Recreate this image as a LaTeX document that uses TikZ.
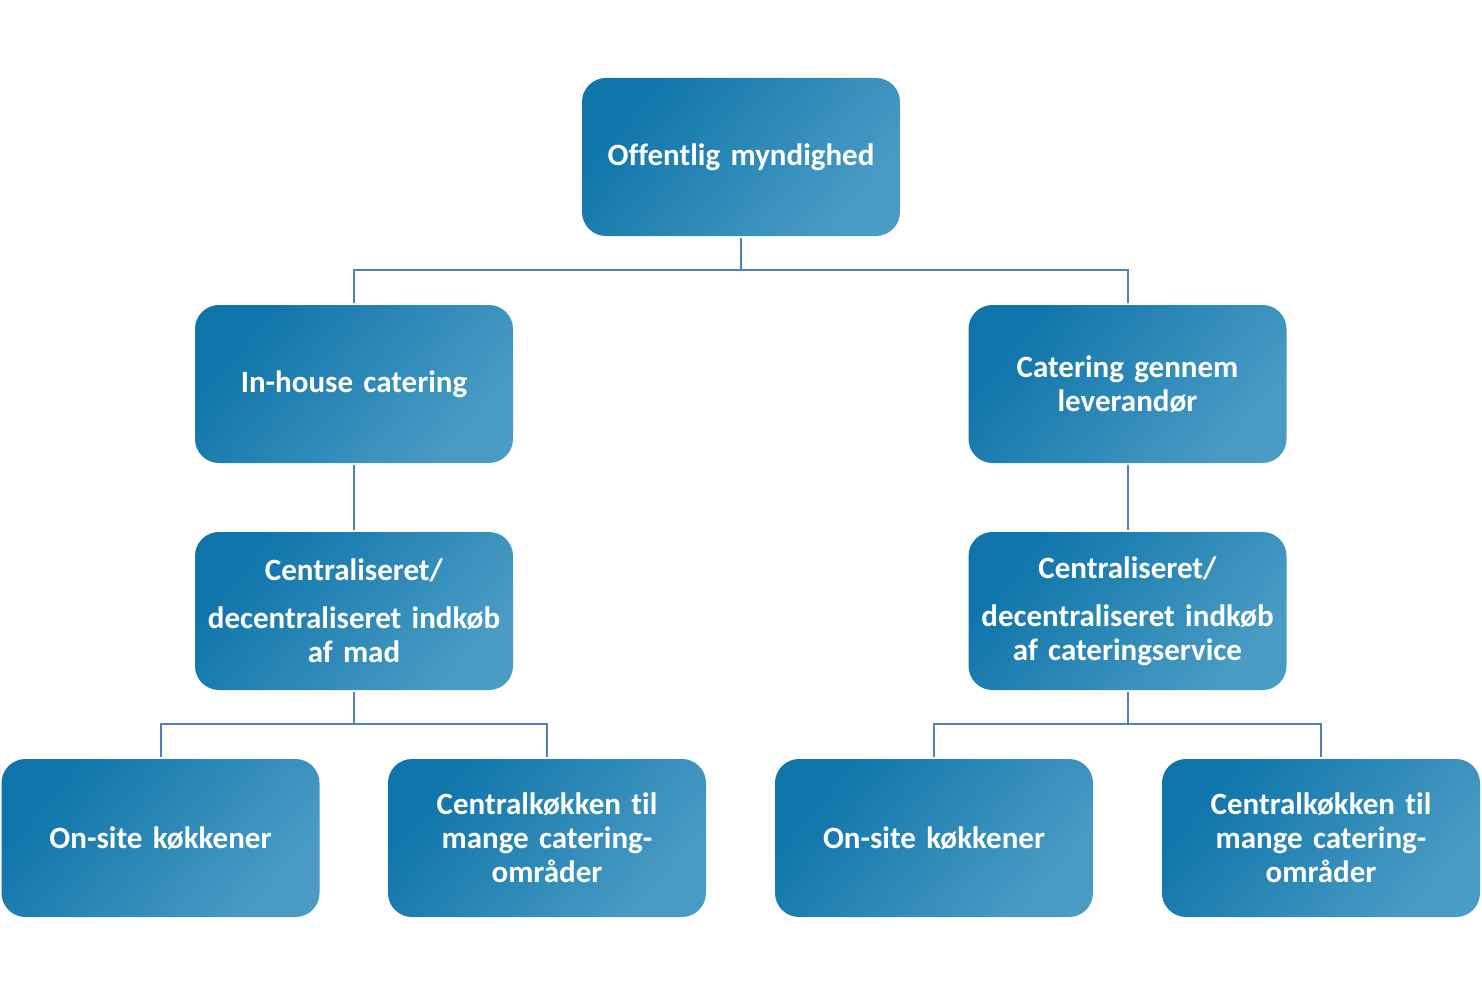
\documentclass[tikz,border=0pt]{standalone}
\usepackage{fontspec}
\setmainfont[Ligatures=NoCommon]{Carlito}
\usetikzlibrary{calc}
\definecolor{boxdark}{HTML}{0E74AA}
\definecolor{boxlight}{HTML}{4A9CC4}
\definecolor{linkblue}{HTML}{4F81BD}
\tikzset{
  unit/.style={rounded corners=12pt, minimum width=159pt, minimum height=79pt,
    left color=boxdark, right color=boxlight, shading angle=50,
    text=white, font=\fontsize{15.5pt}{17pt}\selectfont\bfseries,
    align=center, text width=152pt, inner sep=0pt},
  link/.style={draw=linkblue, line width=1pt}
}
\begin{document}
\begin{tikzpicture}[x=0.5pt, y=-0.5pt]
			%%%%% START %%%%%
			\useasboundingbox (0,0) rectangle (1482,995);
			
			\node[unit] (auth) at (741, 157) {Offentlig myndighed};
			
			\node[unit] (inhouse) at (354, 384) {In-house catering};
			\node[unit] (supplier) at (1127.5, 384) {Catering gennem\\leverandør};
			
			\node[unit] (foodbuy) at (354, 611) {Centraliseret/\\[7pt]decentraliseret indkøb\\af mad};
			\node[unit] (servbuy) at (1127.5, 611) {Centraliseret/\\[7pt]decentraliseret indkøb\\af cateringservice};
			
			\node[unit] (onsiteA) at (160.5, 838) {On-site køkkener};
			\node[unit] (centralA) at (547, 838) {Centralkøkken til\\mange catering-\\områder};
			\node[unit] (onsiteB) at (934, 838) {On-site køkkener};
			\node[unit] (centralB) at (1321, 838) {Centralkøkken til\\mange catering-\\områder};
			
			\draw[link] ($(auth.south)+(0,2)$) -- ++(0,32) -| ($(inhouse.north)+(0,-2)$);
			\draw[link] ($(auth.south)+(0,34)$) -| ($(supplier.north)+(0,-2)$);
			
			\draw[link] ($(inhouse.south)+(0,2)$) -- ($(foodbuy.north)+(0,-2)$);
			\draw[link] ($(supplier.south)+(0,2)$) -- ($(servbuy.north)+(0,-2)$);
			
			\draw[link] ($(foodbuy.south)+(0,2)$) -- ++(0,32) -| ($(onsiteA.north)+(0,-2)$);
			\draw[link] ($(foodbuy.south)+(0,34)$) -| ($(centralA.north)+(0,-2)$);
			\draw[link] ($(servbuy.south)+(0,2)$) -- ++(0,32) -| ($(onsiteB.north)+(0,-2)$);
			\draw[link] ($(servbuy.south)+(0,34)$) -| ($(centralB.north)+(0,-2)$);
			
			%%%%% END %%%%%
\end{tikzpicture}
\end{document}
